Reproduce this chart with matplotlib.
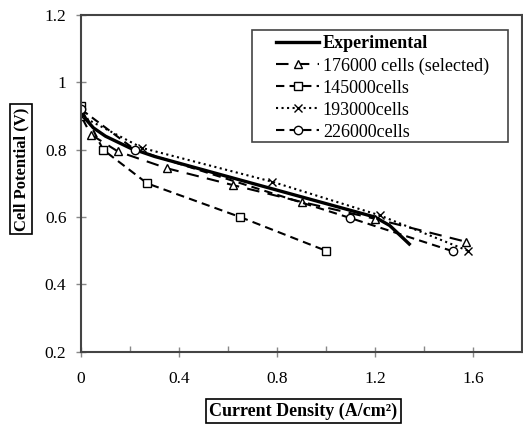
import matplotlib
import matplotlib.pyplot as plt
from matplotlib.patches import Rectangle
from matplotlib.ticker import MultipleLocator

matplotlib.use("Agg")

plt.rcParams["font.family"] = ["Liberation Serif", "DejaVu Serif"]

# data
exp_x = [0.0, 0.02, 0.05, 0.1, 0.2, 0.3, 0.4, 0.6, 0.8, 1.0, 1.1, 1.2, 1.26, 1.34]
exp_y = [0.92, 0.89, 0.865, 0.84, 0.805, 0.78, 0.76, 0.72, 0.68, 0.64, 0.62, 0.60, 0.575, 0.52]

c176_x = [0.0, 0.04, 0.15, 0.35, 0.62, 0.9, 1.2, 1.57]
c176_y = [0.90, 0.845, 0.795, 0.745, 0.695, 0.645, 0.595, 0.527]

c145_x = [0.0, 0.09, 0.27, 0.65, 1.0]
c145_y = [0.93, 0.80, 0.70, 0.60, 0.50]

c193_x = [0.0, 0.25, 0.78, 1.22, 1.58]
c193_y = [0.90, 0.805, 0.705, 0.605, 0.50]

c226_x = [0.0, 0.22, 1.1, 1.52]
c226_y = [0.92, 0.80, 0.597, 0.498]

x_ticks = [0, 0.4, 0.8, 1.2, 1.6]
y_ticks = [0.2, 0.4, 0.6, 0.8, 1, 1.2]

fig = plt.figure(figsize=(5.23, 4.28), dpi=100)
ax = fig.add_axes([0.155, 0.178, 0.843, 0.787])

mk = dict(markerfacecolor="white", markeredgecolor="black", markersize=6, markeredgewidth=1.0)

ax.plot(exp_x, exp_y, "-", color="black", lw=2.4, label="Experimental")
ax.plot(c176_x, c176_y, color="black", lw=1.5, dashes=(6, 4), marker="^",
        label="176000 cells (selected)", **mk)
ax.plot(c145_x, c145_y, color="black", lw=1.5, dashes=(4, 2.5), marker="s",
        label="145000cells", **mk)
ax.plot(c193_x, c193_y, color="black", lw=1.5, linestyle=":", marker="x",
        label="193000cells", **mk)
ax.plot(c226_x, c226_y, color="black", lw=1.5, dashes=(4, 2.5), marker="o",
        label="226000cells", **mk)

ax.set_xlim(0, 1.8)
ax.set_ylim(0.2, 1.2)
ax.set_xticks(x_ticks)
ax.set_xticklabels(["0", "0.4", "0.8", "1.2", "1.6"])
ax.set_yticks(y_ticks)
ax.set_yticklabels(["0.2", "0.4", "0.6", "0.8", "1", "1.2"])
ax.xaxis.set_minor_locator(MultipleLocator(0.2))
ax.tick_params(axis="both", which="major", direction="inout", length=7, width=1,
               color="#888888", labelsize=12.5)
ax.tick_params(axis="x", which="major", pad=10)
ax.tick_params(axis="y", which="major", pad=7)
ax.tick_params(axis="x", which="minor", direction="in", length=4, width=1, color="#888888")

for s in ax.spines.values():
    s.set_color("#444444")
    s.set_linewidth(1.5)

# legend without frame, box drawn separately to get the wide side padding
leg = ax.legend(loc="upper left", bbox_to_anchor=(0.442, 0.94), fontsize=13,
                handlelength=2.4, frameon=False, borderpad=0, borderaxespad=0,
                labelspacing=0.28, handletextpad=0.2)
leg.get_texts()[0].set_fontweight("bold")
ax.add_patch(Rectangle((0.388, 0.623), 0.58, 0.332, transform=ax.transAxes,
                       facecolor="none", edgecolor="#444444", lw=1.2, zorder=5))

box = dict(boxstyle="square,pad=0.2", facecolor="white", edgecolor="black", lw=1.2)
fig.text(0.58, 0.04, "Current Density (A/cm²)", ha="center", va="center",
         fontsize=13, fontweight="bold", bbox=box)
fig.text(0.04, 0.605, "Cell Potential (V)", ha="center", va="center", rotation=90,
         fontsize=12, fontweight="bold", bbox=box)

fig.savefig("out.png", dpi=100)
